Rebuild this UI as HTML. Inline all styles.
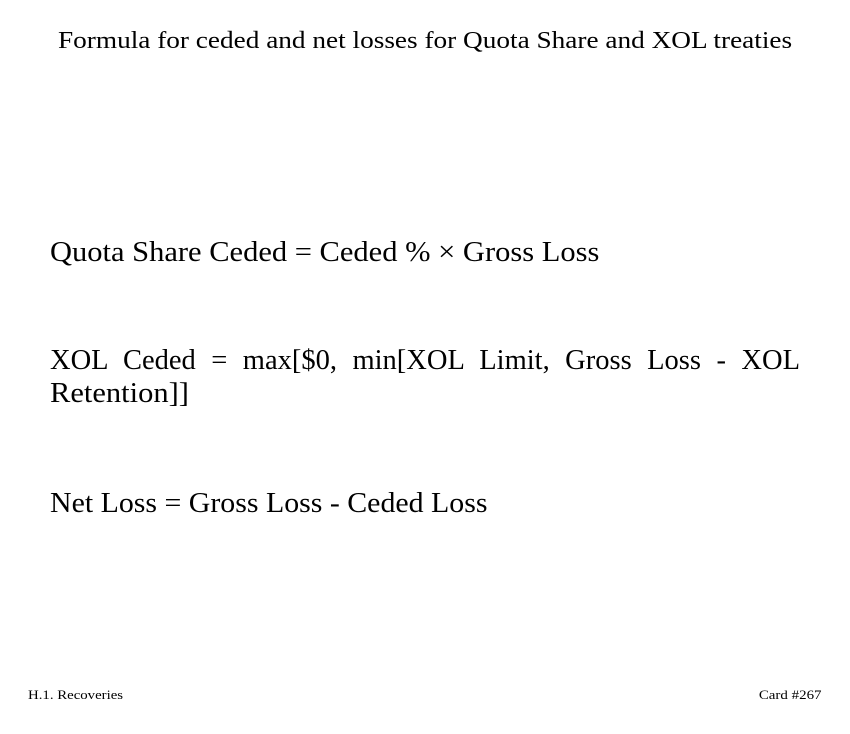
<!DOCTYPE html>
<html><head><meta charset="utf-8"><style>
html,body{margin:0;padding:0;background:#fff;}
body{width:850px;height:734px;position:relative;overflow:hidden;font-family:"Liberation Serif",serif;color:#000;}
.t{position:absolute;white-space:nowrap;}
</style></head><body>
<div class="t" style="left:58px;top:28px;font-size:24px;transform:scaleX(1.136);transform-origin:0 0;">Formula for ceded and net losses for Quota Share and XOL treaties</div>
<div class="t" style="left:50px;top:237px;font-size:28.5px;transform:scaleX(1.07);transform-origin:0 0;">Quota Share Ceded = Ceded % × Gross Loss</div>
<div class="t" style="left:50px;top:345px;font-size:28.5px;width:750px;text-align:justify;text-align-last:justify;">XOL Ceded = max[$0, min[XOL Limit, Gross Loss - XOL</div>
<div class="t" style="left:50px;top:378px;font-size:28.5px;transform:scaleX(1.07);transform-origin:0 0;">Retention]]</div>
<div class="t" style="left:50px;top:488px;font-size:28.5px;transform:scaleX(1.048);transform-origin:0 0;">Net Loss = Gross Loss - Ceded Loss</div>
<div class="t" style="left:28px;top:687px;font-size:13px;transform:scaleX(1.14);transform-origin:0 0;">H.1. Recoveries</div>
<div class="t" style="right:28px;top:687px;font-size:13px;transform:scaleX(1.15);transform-origin:100% 0;">Card #267</div>
</body></html>
